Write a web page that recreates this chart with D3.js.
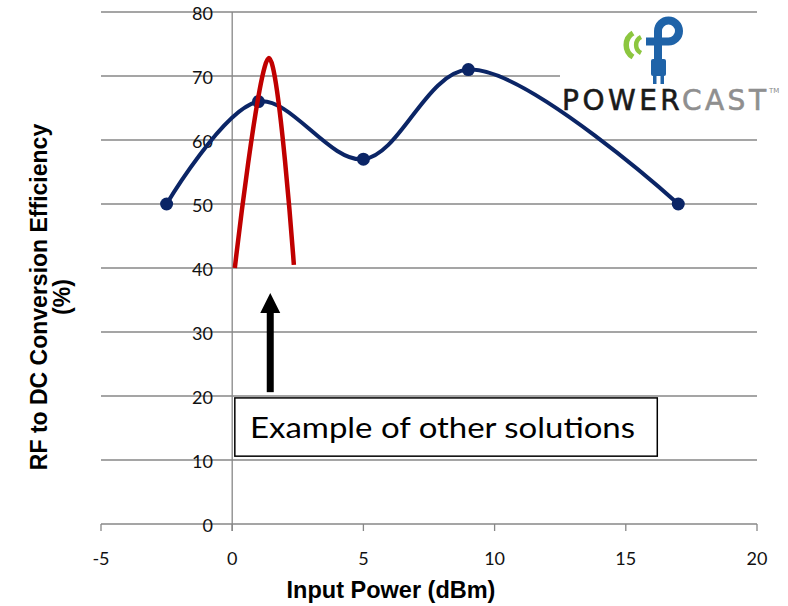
<!DOCTYPE html>
<html>
<head>
<meta charset="utf-8">
<script src="https://cdn.jsdelivr.net/npm/d3@7"></script>
<style>
  body { margin: 0; background: #fff; }
  svg { display: block; }
</style>
</head>
<body>
<div id="chart"></div>
<script>
// Données.
const inputPower = [-2.5, 1, 5, 9, 17];
const efficiency = [50, 66, 57, 71, 50];
// Courbe rouge "autres solutions".
const otherPower = [0.1, 1.4, 2.35];
const otherEff = [40, 72.8, 40.5];
const xTicks = [-5, 0, 5, 10, 15, 20];
const yTicks = [0, 10, 20, 30, 40, 50, 60, 70, 80];

const W = 788, H = 606;
const svg = d3.select("#chart").append("svg")
  .attr("width", W).attr("height", H);

const x = d3.scaleLinear().domain([-5, 20]).range([101, 757]);
const y = d3.scaleLinear().domain([0, 80]).range([524, 12]);
const gridC = "#878787";

// Lignes de la grille.
svg.append("g").selectAll("line").data(yTicks).join("line")
  .attr("x1", x(-5)).attr("x2", x(20))
  .attr("y1", d => y(d)).attr("y2", d => y(d))
  .attr("stroke", gridC).attr("stroke-width", 1.3);

// Axe des x avec ses marques.
svg.append("g").selectAll("line").data(xTicks).join("line")
  .attr("x1", d => x(d)).attr("x2", d => x(d))
  .attr("y1", y(0)).attr("y2", y(0) + 7)
  .attr("stroke", gridC).attr("stroke-width", 1.3);
svg.append("line")
  .attr("x1", x(0)).attr("x2", x(0))
  .attr("y1", y(80)).attr("y2", y(0) + 7)
  .attr("stroke", gridC).attr("stroke-width", 1.3);

// Libellés des axes.
svg.append("g").selectAll("text").data(yTicks).join("text")
  .attr("x", 213).attr("y", d => y(d) + 8)
  .attr("text-anchor", "end")
  .attr("font-family", "Lato, 'Open Sans', sans-serif")
  .attr("font-size", 18).attr("fill", "#111")
  .text(d => d);
svg.append("g").selectAll("text").data(xTicks).join("text")
  .attr("x", d => x(d)).attr("y", 565)
  .attr("text-anchor", "middle")
  .attr("font-family", "Lato, 'Open Sans', sans-serif")
  .attr("font-size", 18).attr("fill", "#111")
  .text(d => d);

svg.append("text")
  .attr("x", 391).attr("y", 598)
  .attr("text-anchor", "middle")
  .attr("font-family", "'Liberation Sans', Arial, sans-serif")
  .attr("font-weight", "bold").attr("font-size", 23.5)
  .text("Input Power (dBm)");
const yTitle = svg.append("text")
  .attr("transform", "translate(47,297) rotate(-90)")
  .attr("text-anchor", "middle")
  .attr("font-family", "'Liberation Sans', Arial, sans-serif")
  .attr("font-weight", "bold").attr("font-size", 23);
yTitle.append("tspan").attr("x", 0).attr("y", 0).text("RF to DC Conversion Efficiency");
yTitle.append("tspan").attr("x", 0).attr("y", 23).text("(%)");

// Logo Powercast (approximation).
const logo = svg.append("g");
logo.append("rect").attr("x", 560).attr("y", 18).attr("width", 228).attr("height", 100)
  .attr("fill", "#fff");
logo.append("path").attr("d", "M633,33 A14,14 0 0 0 633,57")
  .attr("fill", "none").attr("stroke", "#8cc63f").attr("stroke-width", 5.5);
logo.append("path").attr("d", "M641,37 A9,9 0 0 0 641,53")
  .attr("fill", "none").attr("stroke", "#8cc63f").attr("stroke-width", 4.5);
logo.append("path")
  .attr("d", "M658,64 L658,31 A10.5,10.5 0 1 1 668.5,41.5 L646,41.5")
  .attr("fill", "none").attr("stroke", "#1f63a8").attr("stroke-width", 8);
logo.append("rect").attr("x", 651).attr("y", 59).attr("width", 15).attr("height", 17)
  .attr("rx", 2).attr("fill", "#1f63a8");
logo.append("rect").attr("x", 653).attr("y", 74).attr("width", 3.5).attr("height", 10).attr("fill", "#1f63a8");
logo.append("rect").attr("x", 660.5).attr("y", 74).attr("width", 3.5).attr("height", 10).attr("fill", "#1f63a8");
const brand = logo.append("text")
  .attr("x", 562).attr("y", 110)
  .attr("font-family", "'DejaVu Sans', sans-serif").attr("font-size", 28)
  .attr("stroke-width", 0.6)
  .attr("textLength", 204).attr("lengthAdjust", "spacing");
brand.append("tspan").attr("fill", "#1a1a1a").attr("stroke", "#1a1a1a").text("POWER");
brand.append("tspan").attr("fill", "#8f8f8f").attr("stroke", "#8f8f8f").text("CAST");
logo.append("text").attr("x", 769).attr("y", 93)
  .attr("font-family", "'DejaVu Sans', sans-serif").attr("font-size", 7)
  .attr("fill", "#8a8a8a").text("TM");

// Série bleue lissée.
const pts = inputPower.map((d, i) => [d, efficiency[i]]);
const line = d3.line().x(d => x(d[0])).y(d => y(d[1])).curve(d3.curveCatmullRom.alpha(0.5));
svg.append("path").datum(pts)
  .attr("d", line).attr("fill", "none")
  .attr("stroke", "#0b2566").attr("stroke-width", 4);
svg.append("g").selectAll("circle").data(pts).join("circle")
  .attr("cx", d => x(d[0])).attr("cy", d => y(d[1])).attr("r", 6.5)
  .attr("fill", "#0b2566");

// Courbe rouge.
const redPts = otherPower.map((d, i) => [d, otherEff[i]]);
svg.append("path").datum(redPts)
  .attr("d", line).attr("fill", "none")
  .attr("stroke", "#c00000").attr("stroke-width", 4.5);

// Annotation : flèche et boîte de texte.
const arrowX = 1.45, arrowBase = 20.6, arrowTip = 36.1;
svg.append("rect")
  .attr("x", x(arrowX) - 3.5).attr("y", y(arrowTip) + 18)
  .attr("width", 7).attr("height", y(arrowBase) - y(arrowTip) - 18)
  .attr("fill", "#000");
svg.append("path")
  .attr("d", `M${x(arrowX)},${y(arrowTip)} L${x(arrowX) + 10},${y(arrowTip) + 20} L${x(arrowX) - 10},${y(arrowTip) + 20} Z`)
  .attr("fill", "#000");

const box = { x0: 0.1, x1: 16.2, y0: 19.7, y1: 10.6 };
svg.append("rect")
  .attr("x", x(box.x0)).attr("y", y(box.y0))
  .attr("width", x(box.x1) - x(box.x0)).attr("height", y(box.y1) - y(box.y0))
  .attr("fill", "#fff").attr("stroke", "#000").attr("stroke-width", 1.5);
svg.append("text")
  .attr("x", 250).attr("y", 438)
  .attr("font-family", "Lato, 'Open Sans', sans-serif").attr("font-size", 28)
  .attr("textLength", 385).attr("lengthAdjust", "spacingAndGlyphs")
  .text("Example of other solutions");
</script>
</body>
</html>
